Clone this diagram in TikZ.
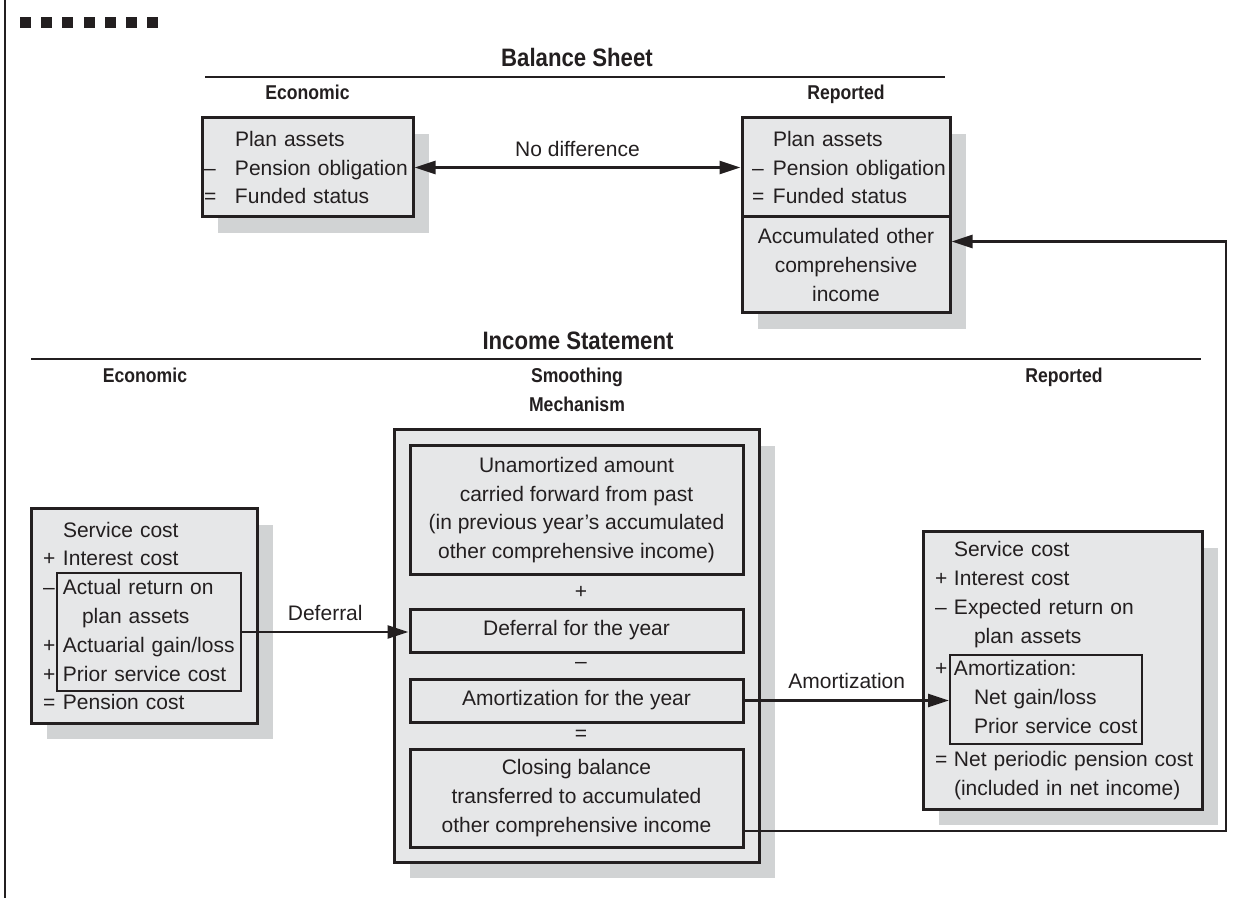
\documentclass[tikz,border=0pt]{standalone}
\usepackage{fontspec}
\setmainfont{Liberation Sans}
\newfontfamily\headfont{Liberation Sans}[FakeStretch=0.88]
\usepackage{tikz}
\usetikzlibrary{arrows.meta}
\usetikzlibrary{calc}
\usetikzlibrary{positioning}
\usetikzlibrary{shadows}

\definecolor{ink}{HTML}{231F20}
\definecolor{boxgray}{HTML}{E6E7E8}
\definecolor{shadegray}{HTML}{D1D3D4}

\newcommand{\op}[2][10pt]{\makebox[#1][l]{#2}}

\tikzset{
  >={Triangle[length=10.5pt,width=6.5pt]},
  box/.style={draw=ink, line width=1.5pt, fill=boxgray, inner ysep=0pt,
    drop shadow={shadow xshift=8pt, shadow yshift=-8pt, fill=shadegray, opacity=1}},
  innerbox/.style={draw=ink, line width=1.5pt, fill=boxgray, inner sep=0pt,
    minimum width=166.5pt, align=center},
  thinbox/.style={draw=ink, line width=1pt, inner sep=0pt},
  opnode/.style={inner sep=0pt},
  heading/.style={font=\headfont\bfseries\fontsize{10}{12}\selectfont, anchor=base, inner sep=0pt},
  bigheading/.style={heading, font=\headfont\bfseries\fontsize{12.6}{15}\selectfont},
  flow/.style={draw=ink, line width=1.3pt, ->},
  rule/.style={draw=ink, line width=1pt},
  lbl/.style={inner sep=0pt}
}

\begin{document}
\begin{tikzpicture}[x=0.5pt, y=-0.5pt, text=ink, font=\fontsize{10.5}{14.4}\selectfont]
\useasboundingbox (0,0) rectangle (1248,898);
\draw[ink, line width=1pt] (4.5,0) -- (4.5,898);
\foreach \i in {0,...,6}
  \fill[ink] (20+21.2*\i,17) rectangle +(11,11);

% balance sheet
\node[bigheading] (bs) at (577,67) {Balance Sheet};
\draw[rule] (205,77) -- (945,77);
\node[heading] (bsecon) at (307.5,100) {Economic};
\node[heading] (bsrep) at (846,100) {Reported};

\node[box, minimum width=105.5pt, minimum height=49.5pt, inner xsep=1pt, text width=103.5pt, align=left] (econbs) at (307.5,167.5)
  {\op[15.5pt]{}Plan assets\\\op[15.5pt]{–}Pension obligation\\\op[15.5pt]{=}Funded status};
\node[box, minimum width=104pt, minimum height=49.5pt, inner xsep=2pt, text width=100pt, align=left] (rpt) at (846,167.5)
  {\op[13.5pt]{}Plan assets\\\op[13.5pt]{\hspace{3pt}–}Pension obligation\\\op[13.5pt]{\hspace{3pt}=}Funded status};
\node[box, minimum width=104pt, minimum height=48pt, inner xsep=2pt, text width=100pt, align=center] (aoci) at (846,265)
  {Accumulated other\\comprehensive\\income};
\draw[flow, <->] (econbs) -- (rpt) node[midway, above=4.5pt, lbl] {No difference};

% income statement
\node[bigheading] (is) at (578,350) {Income Statement};
\draw[rule] (31,359) -- (1201,359);
\node[heading] (isecon) at (145,383) {Economic};
\node[heading] (smooth1) at (577,383) {Smoothing};
\node[heading] (smooth2) at (577,411.5) {Mechanism};
\node[heading] (isrep) at (1064,383) {Reported};

\node[box, minimum width=113pt, minimum height=107pt, inner xsep=6pt, text width=101pt, align=left] (econis) at (144,616)
  {\op{}Service cost\\\op{+}Interest cost\\\op{–}Actual return on\\\op{}\hspace{9.5pt}plan assets\\\op{+}Actuarial gain/loss\\\op{+}Prior service cost\\\op{=}Pension cost};
\node[thinbox, minimum width=92pt, minimum height=59pt] (actual) at (149,632) {};

\node[box, minimum width=182.5pt, minimum height=216pt] (smooth) at (576.5,646) {};
\node[innerbox, minimum height=64pt] (unamort) at (576.5,510)
  {Unamortized amount\\carried forward from past\\(in previous year’s accumulated\\other comprehensive income)};
\node[opnode] (plus) at (581,592) {+};
\node[innerbox, minimum height=21.5pt] (defer) at (576.5,630.5) {Deferral for the year};
\node[opnode] (minus) at (581,665) {–};
\node[innerbox, minimum height=21.5pt] (amort) at (576.5,700.5) {Amortization for the year};
\node[opnode] (equals) at (581,735) {=};
\node[innerbox, minimum height=49pt] (close) at (576.5,798)
  {Closing balance\\transferred to accumulated\\other comprehensive income};

\node[box, minimum width=139.5pt, minimum height=138.5pt, inner xsep=4pt, text width=131.5pt, align=left] (rptis) at (1062.5,670.5)
  {\op[11.5pt]{}Service cost\\\op[11.5pt]{\hspace{2pt}+}Interest cost\\\op[11.5pt]{\hspace{2pt}–}Expected return on\\\op[11.5pt]{}\hspace{10pt}plan assets\\[2pt]
   \op[11.5pt]{\hspace{2pt}+}Amortization:\\\op[11.5pt]{}\hspace{10pt}Net gain/loss\\\op[11.5pt]{}\hspace{10pt}Prior service cost\\[2pt]
   \op[11.5pt]{\hspace{2pt}=}Net periodic pension cost\\\op[11.5pt]{}(included in net income)};
\node[thinbox, minimum width=96pt, minimum height=44.5pt] (amortin) at (1046,699.5) {};

% connectors
\draw[flow] (actual.east) -- (actual.east -| defer.west) node[midway, above=5pt, lbl] {Deferral};
\draw[flow] (amort.east) -- (amort.east -| amortin.west) node[midway, above=5pt, lbl] {Amortization};
\coordinate (back) at (1226,831);
\coordinate (up) at (1226,241.5);
\draw[flow] (close.east |- back) -- (back) -- (up) -- (up -| aoci.east);
\end{tikzpicture}
\end{document}
